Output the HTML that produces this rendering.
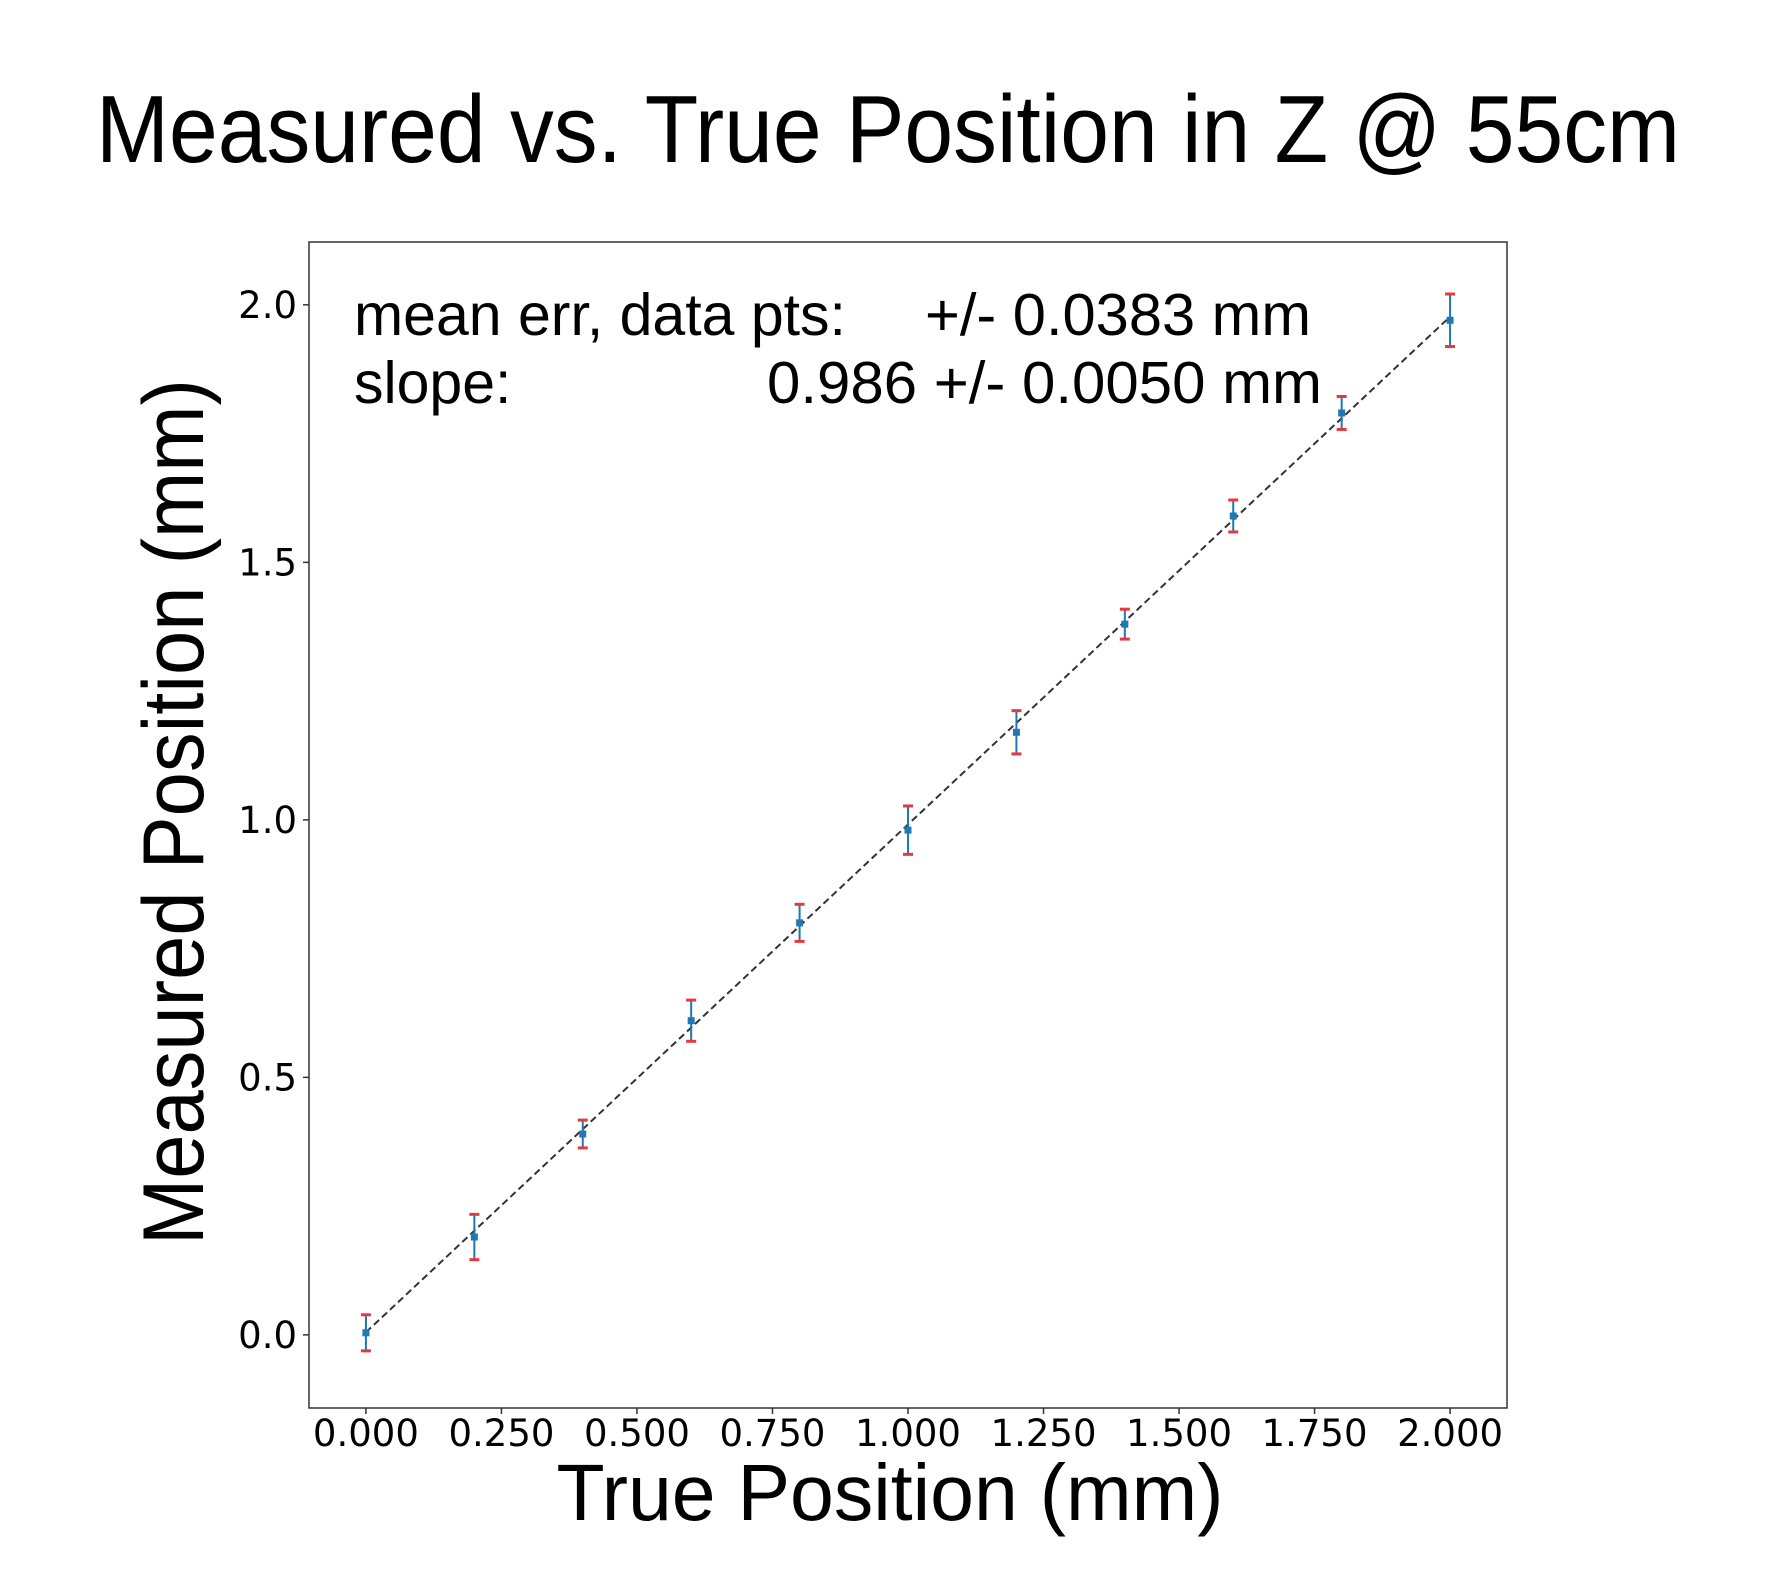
<!DOCTYPE html>
<html><head><meta charset="utf-8"><style>
html,body{margin:0;padding:0;background:#fff;}
svg{display:block;}
</style></head><body>
<svg id="chart" width="1788" height="1585" viewBox="0 0 1788 1585" xmlns="http://www.w3.org/2000/svg">
<rect width="1788" height="1585" fill="#fff"/>
<text x="888" y="162" text-anchor="middle" font-family="Liberation Sans, sans-serif" font-size="96" textLength="1584" lengthAdjust="spacingAndGlyphs">Measured vs. True Position in Z @ 55cm</text>
<text transform="translate(203,812) rotate(-90)" text-anchor="middle" font-family="Liberation Sans, sans-serif" font-size="86" textLength="866" lengthAdjust="spacingAndGlyphs">Measured Position (mm)</text>
<text x="890" y="1520" text-anchor="middle" font-family="Liberation Sans, sans-serif" font-size="80" textLength="667" lengthAdjust="spacingAndGlyphs">True Position (mm)</text>
<g id="plot"></g>
<text x="354" y="335" font-family="Liberation Sans, sans-serif" font-size="59">mean err, data pts:</text>
<text x="1311" y="335" text-anchor="end" font-family="Liberation Sans, sans-serif" font-size="59" textLength="386" lengthAdjust="spacingAndGlyphs">+/- 0.0383 mm</text>
<text x="354" y="403" font-family="Liberation Sans, sans-serif" font-size="59">slope:</text>
<text x="1322" y="403" text-anchor="end" font-family="Liberation Sans, sans-serif" font-size="59" textLength="555" lengthAdjust="spacingAndGlyphs">0.986 +/- 0.0050 mm</text>
</svg>
<script>
const xValues=[0,0.2,0.4,0.6,0.8,1.0,1.2,1.4,1.6,1.8,2.0];
const yValues=[0.004,0.19,0.39,0.61,0.80,0.98,1.17,1.38,1.59,1.79,1.97];
const yErrors=[0.035,0.044,0.027,0.04,0.036,0.047,0.042,0.029,0.031,0.032,0.051];
const xTicks=[0,0.25,0.5,0.75,1.0,1.25,1.5,1.75,2.0];
const xTickLabels=["0.000","0.250","0.500","0.750","1.000","1.250","1.500","1.750","2.000"];
const yTicks=[0,0.5,1.0,1.5,2.0];
const yTickLabels=["0.0","0.5","1.0","1.5","2.0"];
const fitSlope=0.986;
const fitIntercept=0.005;

const L=309,R=1507,T=242,B=1408;
const xMin=-0.105,xMax=2.105,yMin=-0.142,yMax=2.122;
function sx(v){return L+(v-xMin)/(xMax-xMin)*(R-L);}
function sy(v){return B-(v-yMin)/(yMax-yMin)*(B-T);}
const NS="http://www.w3.org/2000/svg";
const g=document.getElementById('plot');
function mk(tag,attrs,parent){const e=document.createElementNS(NS,tag);for(const k in attrs)e.setAttribute(k,attrs[k]);(parent||g).appendChild(e);return e;}

const frame=mk('rect',{x:L,y:T,width:R-L,height:B-T,fill:'none',stroke:'#333','stroke-width':1.5});



xTicks.forEach((t,i)=>{
  const ln=mk('line',{x1:sx(t),x2:sx(t),y1:B,y2:B+6,stroke:'#333','stroke-width':1.5});
  
  
  const tx=mk('text',{x:sx(t),y:B+38,'text-anchor':'middle','font-family':'DejaVu Sans, sans-serif','font-size':37,textLength:106,lengthAdjust:'spacingAndGlyphs'});
  tx.textContent=xTickLabels[i];
  
  
});
yTicks.forEach((t,i)=>{
  const ln=mk('line',{x1:L-6,x2:L,y1:sy(t),y2:sy(t),stroke:'#333','stroke-width':1.5});
  
  
  const tx=mk('text',{x:L-12,y:sy(t)+13,'text-anchor':'end','font-family':'DejaVu Sans, sans-serif','font-size':37});
  tx.textContent=yTickLabels[i];
  
  
});

const x0=xValues[0],x1=xValues[xValues.length-1];
const fit=mk('line',{x1:sx(x0),y1:sy(fitIntercept+fitSlope*x0),x2:sx(x1),y2:sy(fitIntercept+fitSlope*x1),stroke:'#333','stroke-width':2,'stroke-dasharray':'7,4'});



xValues.forEach((xv,i)=>{
  const cx=sx(xv),cy=sy(yValues[i]),top=sy(yValues[i]+yErrors[i]),bot=sy(yValues[i]-yErrors[i]);
  const eb=mk('line',{x1:cx,x2:cx,y1:top,y2:bot,stroke:'#1f77b4','stroke-width':2});
  
  
  [top,bot].forEach(yy=>{
    const cap=mk('line',{x1:cx-5,x2:cx+5,y1:yy,y2:yy,stroke:'#e8383d','stroke-width':3});
    
    
  });
  const pt=mk('rect',{x:cx-3.5,y:cy-3.5,width:7,height:7,fill:'#1f77b4'});
  
  
});
</script>
</body></html>
